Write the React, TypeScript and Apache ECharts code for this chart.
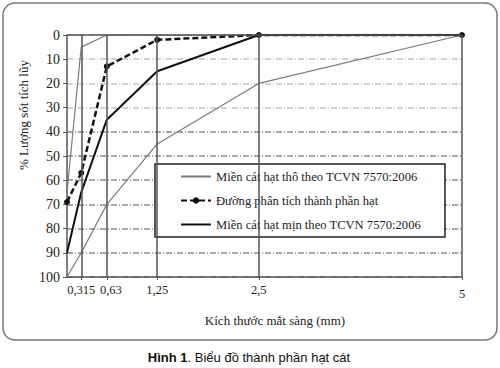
import React, { useEffect, useRef } from "react";
import * as echarts from "echarts";

const sieveSizes = [0.14, 0.315, 0.63, 1.25, 2.5, 5];
const coarseLimit = [100, 90, 70, 45, 20, 0];
const fineLimit = [65, 5, 0, 0, 0, 0];
const zoneBoundary = [90, 65, 35, 15, 0, 0];
const analysisLine = [69, 57, 13, 2, 0, 0];
const xTickValues = [0.315, 0.63, 1.25, 2.5, 5];
const yTicks = [0, 10, 20, 30, 40, 50, 60, 70, 80, 90, 100];

const NAME_COARSE = "Miền cát hạt thô theo TCVN 7570:2006";
const NAME_ANALYSIS = "Đường phân tích thành phần hạt";
const NAME_FINE = "Miền cát hạt mịn theo TCVN 7570:2006";

const SERIF = "'Liberation Serif', 'DejaVu Serif', serif";
const NARROW = "'Liberation Sans Narrow', 'Liberation Sans', 'Noto Sans', sans-serif";

export default function App() {
  const ref = useRef<HTMLDivElement>(null);
  useEffect(() => {
    if (!ref.current) return;
    const chart = echarts.init(ref.current, undefined, { renderer: "svg" });
    const grayPath: number[][] = [];
    sieveSizes.forEach((s, i) => grayPath.push([s, coarseLimit[i]]));
    for (let i = sieveSizes.length - 1; i >= 0; i--) grayPath.push([sieveSizes[i], fineLimit[i]]);
    const boundaryData = sieveSizes.map((s, i) => [s, zoneBoundary[i]]);
    const analysisData = sieveSizes.map((s, i) => [s, analysisLine[i]]);

    chart.setOption({
      animation: false,
      backgroundColor: "#ffffff",
      grid: { left: 67, right: 38, top: 35, bottom: 91 },
      xAxis: {
        type: "value",
        min: 0.14,
        max: 5,
        axisLine: { show: true, onZero: false, lineStyle: { color: "#555", width: 1.5 } },
        axisTick: { show: true, customValues: xTickValues, length: 3, lineStyle: { color: "#555" } },
        axisLabel: {
          customValues: xTickValues,
          interval: 0,
          hideOverlap: false,
          formatter: (v: number) => {
            const t = String(v).replace(".", ",");
            if (v === 0.63) return "{s|" + t + "}";
            if (v === 5) return "{f|" + t + "}";
            return t;
          },
          rich: {
            s: { fontFamily: SERIF, fontSize: 12.5, color: "#222", padding: [0, 0, 0, 8] },
            f: { fontFamily: SERIF, fontSize: 12.5, color: "#222", padding: [4, 0, 0, 0] },
          },
          fontFamily: SERIF,
          fontSize: 12.5,
          color: "#222",
          margin: 6,
        },
        splitLine: { show: false },
      },
      yAxis: {
        type: "value",
        inverse: true,
        min: 0,
        max: 100,
        interval: 10,
        axisLine: { show: true, onZero: false, lineStyle: { color: "#555", width: 1.5 } },
        axisTick: { show: true, length: 4, lineStyle: { color: "#555" } },
        axisLabel: { fontFamily: SERIF, fontSize: 14, color: "#222", margin: 7 },
        splitLine: {
          show: true,
          lineStyle: {
            type: [6, 2, 1, 2],
            width: 1.5,
            color: yTicks.map((t) => (t >= 40 ? "#8a8a8a" : "#c4c4c4")),
          },
        },
      },
      legend: {
        orient: "vertical",
        left: 155,
        top: 164,
        padding: [5, 24, 5, 25],
        itemGap: 9,
        itemWidth: 30,
        itemHeight: 8,
        backgroundColor: "#ffffff",
        borderColor: "#222",
        borderWidth: 1.5,
        textStyle: { fontFamily: SERIF, fontSize: 12.6, color: "#222", lineHeight: 15 },
        data: [
          { name: NAME_COARSE, itemStyle: { opacity: 0 } },
          { name: NAME_ANALYSIS },
          { name: NAME_FINE, itemStyle: { opacity: 0 } },
        ],
      },
      series: [
        {
          name: NAME_COARSE,
          type: "line",
          data: grayPath,
          symbol: "none",
          lineStyle: { color: "#7a7a7a", width: 1.2 },
          itemStyle: { color: "#7a7a7a" },
          z: 2,
          markLine: {
            silent: true,
            symbol: ["none", "none"],
            label: { show: false },
            lineStyle: { color: "#555", type: "solid", width: 1.5 },
            data: [...xTickValues.map((v) => ({ xAxis: v })), { yAxis: 0 }],
          },
        },
        {
          name: NAME_FINE,
          type: "line",
          data: boundaryData,
          symbol: "none",
          lineStyle: { color: "#111", width: 2 },
          itemStyle: { color: "#111" },
          z: 3,
        },
        {
          name: NAME_ANALYSIS,
          type: "line",
          data: analysisData,
          symbol: "circle",
          symbolSize: 6,
          lineStyle: { color: "#111", width: 2.5, type: [6, 3] },
          itemStyle: { color: "#111" },
          z: 4,
        },
      ],
      graphic: [
        {
          type: "rect",
          shape: { x: 3, y: 3, width: 494, height: 337, r: 12 },
          style: { fill: "none", stroke: "#777", lineWidth: 1.5 },
          silent: true,
          z: -1,
        },
        {
          type: "text",
          x: 23,
          y: 115,
          rotation: Math.PI / 2,
          style: {
            text: "% Lượng sót tích lũy",
            fontFamily: SERIF,
            fontSize: 13,
            fill: "#222",
            align: "center",
            verticalAlign: "middle",
          },
        },
        {
          type: "text",
          x: 275,
          y: 320,
          style: {
            text: "Kích thước mắt sàng (mm)",
            fontFamily: SERIF,
            fontSize: 13,
            fill: "#222",
            align: "center",
            verticalAlign: "middle",
          },
        },
        {
          type: "text",
          x: 249,
          y: 357,
          style: {
            text: "{b|Hình 1}{r|. Biểu đồ thành phần hạt cát}",
            align: "center",
            verticalAlign: "middle",
            rich: {
              b: { fontFamily: NARROW, fontSize: 13, fontWeight: "bold", fill: "#111" },
              r: { fontFamily: NARROW, fontSize: 13, fill: "#111" },
            },
          },
        },
      ],
    });
    return () => chart.dispose();
  }, []);
  return (
    <div
      ref={ref}
      style={{ position: "fixed", left: 0, top: 0, width: 500, height: 368 }}
    />
  );
}
